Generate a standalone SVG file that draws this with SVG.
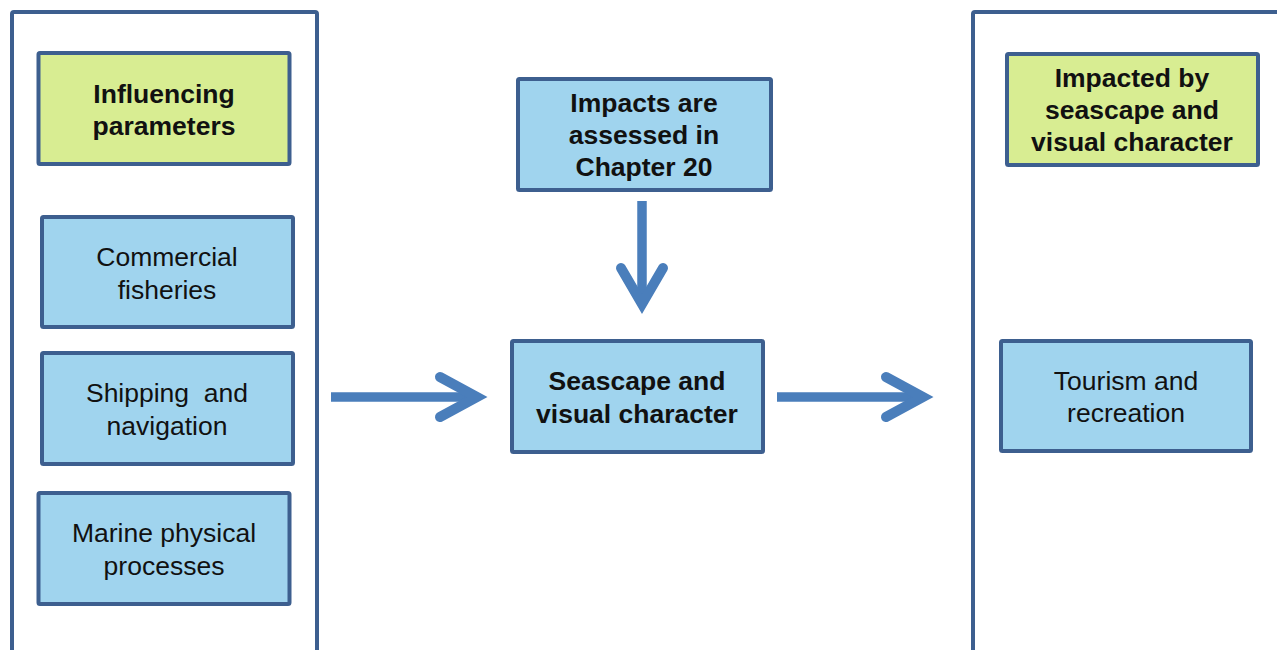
<svg xmlns="http://www.w3.org/2000/svg" width="1277" height="650" viewBox="0 0 1277 650">
  <style>
    .panel { fill: none; stroke: #3d5f8f; stroke-width: 4; }
    .box { stroke: #3d5f8f; stroke-width: 4; }
    .blue { fill: #a0d4ee; }
    .green { fill: #d8ed92; }
    .t { font-family: "Liberation Sans", Arial, sans-serif; font-size: 26.5px; fill: #111; text-anchor: middle; }
    .b { font-weight: bold; font-size: 26.5px; }
    .arrow { fill: none; stroke: #4a7ebb; stroke-width: 9.5; }
    .head { fill: none; stroke: #4a7ebb; stroke-width: 10; stroke-linecap: round; stroke-linejoin: miter; }
  </style>
  <rect width="1277" height="650" fill="#ffffff"/>

  <!-- side panels -->
  <g id="panel-left">
    <path class="panel" d="M12 660 V14 Q12 12 14 12 H315 Q317 12 317 14 V660"/>
  </g>
  <g id="panel-right">
    <path class="panel" d="M973 660 V14 Q973 12 975 12 H1290"/>
  </g>

  <!-- left column -->
  <g id="influencing">
    <rect class="box green" x="38.5" y="53" width="251" height="111" rx="1.5"/>
    <text class="t b" x="164" y="103">Influencing</text>
    <text class="t b" x="164" y="135">parameters</text>
  </g>
  <g id="fisheries">
    <rect class="box blue" x="42" y="217" width="251" height="110" rx="1.5"/>
    <text class="t" x="167" y="266">Commercial</text>
    <text class="t" x="167" y="299">fisheries</text>
  </g>
  <g id="shipping">
    <rect class="box blue" x="42" y="353" width="251" height="111" rx="1.5"/>
    <text class="t" x="167" y="402" xml:space="preserve">Shipping  and</text>
    <text class="t" x="167" y="435">navigation</text>
  </g>
  <g id="marine">
    <rect class="box blue" x="38.5" y="493" width="251" height="111" rx="1.5"/>
    <text class="t" x="164" y="542">Marine physical</text>
    <text class="t" x="164" y="575">processes</text>
  </g>

  <!-- centre column -->
  <g id="chapter20">
    <rect class="box blue" x="518" y="79" width="253" height="111" rx="1.5"/>
    <text class="t b" x="644" y="112">Impacts are</text>
    <text class="t b" x="644" y="144">assessed in</text>
    <text class="t b" x="644" y="176">Chapter 20</text>
  </g>
  <g id="seascape">
    <rect class="box blue" x="512" y="341" width="251" height="111" rx="1.5"/>
    <text class="t b" x="637" y="390">Seascape and</text>
    <text class="t b" x="637" y="423">visual character</text>
  </g>

  <!-- right column -->
  <g id="impacted">
    <rect class="box green" x="1007" y="54" width="251" height="111" rx="1.5"/>
    <text class="t b" x="1132" y="87">Impacted by</text>
    <text class="t b" x="1132" y="119">seascape and</text>
    <text class="t b" x="1132" y="151">visual character</text>
  </g>
  <g id="tourism">
    <rect class="box blue" x="1001" y="341" width="250" height="110" rx="1.5"/>
    <text class="t" x="1126" y="390">Tourism and</text>
    <text class="t" x="1126" y="422">recreation</text>
  </g>

  <!-- connectors -->
  <g id="connectors">
    <line class="arrow" x1="331" y1="397" x2="476" y2="397"/>
    <path class="head" d="M440 377 L477 397 L440 417"/>
    <line class="arrow" x1="642" y1="201" x2="642" y2="302"/>
    <path class="head" d="M621 268 L642 304 L663 268"/>
    <line class="arrow" x1="777" y1="397" x2="922" y2="397"/>
    <path class="head" d="M886 377 L923 397 L886 417"/>
  </g>
</svg>
